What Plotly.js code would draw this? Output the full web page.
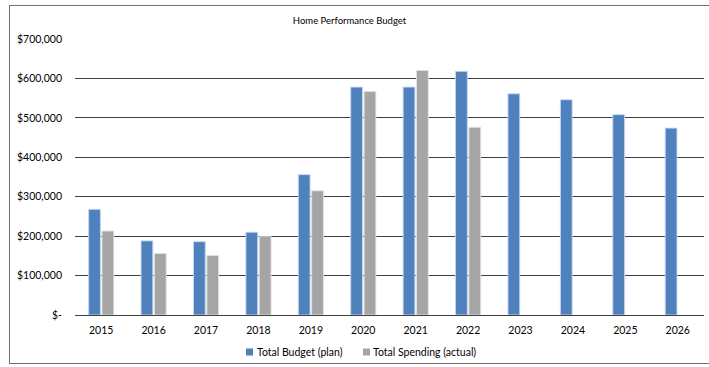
<!DOCTYPE html>
<html>
<head>
<meta charset="utf-8">
<script src="https://cdn.plot.ly/plotly-3.0.1.min.js"></script>
<style>
html,body{margin:0;padding:0;background:#fff;}
#wrap{position:relative;width:709px;height:367px;}
#chart{width:709px;height:367px;}
#frame{position:absolute;left:9px;top:5px;width:710px;height:359px;border:1.5px solid #707070;pointer-events:none;box-sizing:border-box;}
</style>
</head>
<body>
<div id="wrap"><div id="chart"></div><div id="frame"></div></div>
<script>
const years = ['2015','2016','2017','2018','2019','2020','2021','2022','2023','2024','2025','2026'];
const budgetPlan = [268000,188000,186000,210000,356000,578000,578000,618000,561000,546000,508000,474000];
const spendingActual = [213000,156000,151000,200000,315000,567000,620000,476000,null,null,null,null];
const yTickVals = [0,100000,200000,300000,400000,500000,600000,700000];
const yTickText = ['$-','$100,000','$200,000','$300,000','$400,000','$500,000','$600,000','$700,000'];
const seriesNames = ['Total Budget (plan)','Total Spending (actual)'];
const seriesColors = ['#4F81BD','#A5A5A5'];

const FONT = 'Lato, "Liberation Sans", sans-serif';
const traces = [
  {type:'bar', name:seriesNames[0], x:years, y:budgetPlan,
   marker:{color:seriesColors[0], line:{color:'rgba(200,215,240,0.9)', width:1}}},
  {type:'bar', name:seriesNames[1], x:years, y:spendingActual,
   marker:{color:seriesColors[1], line:{color:'rgba(225,225,225,0.9)', width:1}}}
];

// legend drawn as annotations + small squares (px positions converted to paper coords)
const PL = 75, PR = 704, PT = 39, PB = 315;
const px2x = p => (p - PL) / (PR - PL);
const px2y = p => (PB - p) / (PB - PT);
const legendItems = [{sq:246, tx:256}, {sq:363, tx:372}];
const shapes = [], annotations = [];
legendItems.forEach((it, i) => {
  shapes.push({type:'rect', xref:'paper', yref:'paper', x0:px2x(it.sq), x1:px2x(it.sq+7),
               y0:px2y(355.5), y1:px2y(348.5), fillcolor:seriesColors[i], line:{width:0}});
  annotations.push({xref:'paper', yref:'paper', x:px2x(it.tx), y:px2y(352), xanchor:'left', yanchor:'middle',
                    text:seriesNames[i], showarrow:false, borderpad:0,
                    font:{family:FONT, size:10.5, color:'#000'}});
});

const layout = {
  width:709, height:367,
  margin:{l:PL, r:709-PR, t:PT, b:367-PB},
  paper_bgcolor:'#fff', plot_bgcolor:'#fff',
  font:{family:FONT, size:11, color:'#000'},
  title:{text:'Home Performance Budget', font:{family:FONT, size:9.5, color:'#000'},
         xref:'container', yref:'container', x:0.493, y:0.945, xanchor:'center', yanchor:'middle'},
  barmode:'group', bargap:0.49, bargroupgap:0.12,
  xaxis:{type:'category', showgrid:false, zeroline:false, showline:false, ticks:'', ticklabelstandoff:7,
         tickfont:{family:FONT, size:10.5, color:'#000'}},
  yaxis:{range:[0,700000], tickvals:yTickVals, ticktext:yTickText,
         showgrid:true, gridcolor:'#404040', gridwidth:1, zeroline:true, zerolinecolor:'#404040', zerolinewidth:1,
         showline:false, ticks:'', ticklabelstandoff:12,
         tickfont:{family:FONT, size:10.5, color:'#000'}},
  showlegend:false,
  shapes:shapes, annotations:annotations
};
Plotly.newPlot('chart', traces, layout, {displayModeBar:false, staticPlot:true});
</script>
</body>
</html>
